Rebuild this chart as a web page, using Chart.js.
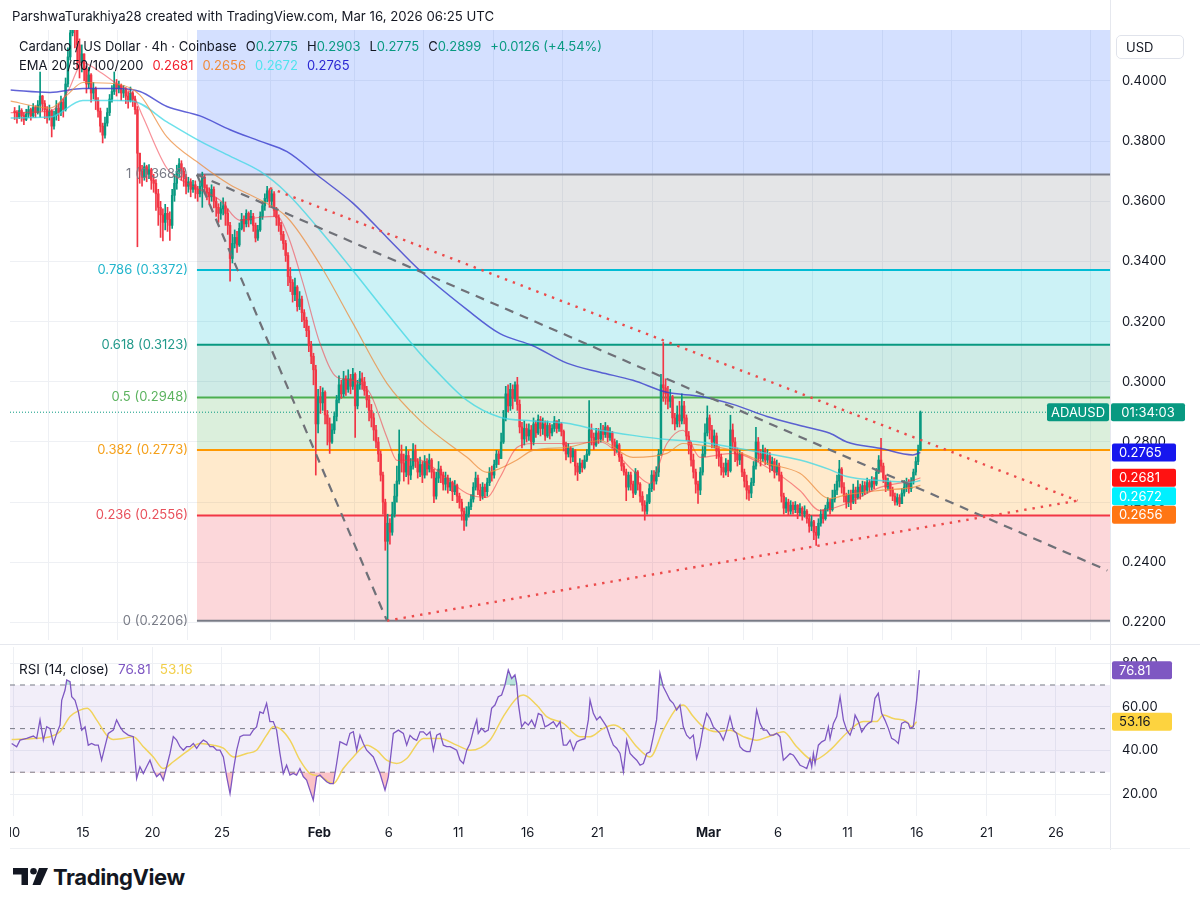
<!DOCTYPE html>
<html><head><meta charset="utf-8">
<script src="https://cdn.jsdelivr.net/npm/chart.js@4.4.1/dist/chart.umd.min.js"></script>
<style>
html,body{margin:0;padding:0;background:#fff;width:1200px;height:912px;overflow:hidden;font-family:Inter,Roboto,"Noto Sans",sans-serif;color:#131722;}
.abs{position:absolute;white-space:nowrap;}
#priceCanvas{position:absolute;left:10px;top:0;}
#rsiCanvas{position:absolute;left:10px;top:645px;}
.sp{margin-left:9px;}
</style></head><body>
<canvas id="priceCanvas" width="1190" height="645"></canvas>
<canvas id="rsiCanvas" width="1190" height="205"></canvas>
<div class="abs" style="left:1110px;top:0;width:1px;height:850px;background:#e6e8ee;"></div>
<div class="abs" style="left:0;top:644px;width:1200px;height:1px;background:#e6e8ee;"></div>
<div class="abs" style="left:10px;top:848px;width:1180px;height:1px;background:#eef0f3;"></div>
<div class="abs" style="left:12px;top:8px;font-size:13.2px;">ParshwaTurakhiya28 created with TradingView.com, Mar 16, 2026 06:25 UTC</div>
<div class="abs" id="legend1" style="left:19px;top:38px;font-size:13px;"></div>
<div class="abs" id="legend2" style="left:19px;top:57px;font-size:13px;"></div>
<div class="abs" id="legend3" style="left:19px;top:661px;font-size:13.5px;"></div>
<div class="abs" style="left:1116px;top:35px;width:68px;height:24px;border:1px solid #e0e3eb;border-radius:5px;box-sizing:border-box;font-size:13px;line-height:22px;padding-left:9px;">USD</div>
<div class="abs" style="left:13px;top:866px;">
<svg width="36" height="20" viewBox="0 0 36 20"><path d="M0 2 H15 V19 H8.5 V8.5 H0 Z" fill="#131722"/><circle cx="20.5" cy="5.2" r="3.3" fill="#131722"/><path d="M26 2 H35 L27.5 19 H19.5 Z" fill="#131722"/></svg>
</div>
<div class="abs" style="left:53px;top:864px;font-size:22px;font-weight:700;letter-spacing:-0.4px;">TradingView</div>
<script>
// ---------------- DATA ----------------
// x axis = day of year 2026 (Jan 1 00:00 UTC = 0)
const tickDays   = [9, 14, 19, 24, 31, 36, 41, 46, 51, 59, 64, 69, 74, 79, 84];
const tickLabels = ['10','15','20','25','Feb','6','11','16','21','Mar','6','11','16','21','26'];
const monthTicks = ['Feb','Mar'];
const priceTicks = [0.22,0.24,0.26,0.28,0.30,0.32,0.34,0.36,0.38,0.40];
const rsiTicks   = [20,40,60,80];
const rsiLevels  = [70,50,30];

// 4h candles ADA/USD, first bar Jan 10 00:00 UTC (6 per day)
const firstBarDay = 9;
const barsPerDay = 6;
const firstOpen = 0.3900;
const closes = [
.3895,.3880,.3902,.3885,.3872,.3890, .3905,.3884,.3912,.3895,.3920,.3950, .3925,.3905,.3880,.3900,.3850,.3885, .3910,.3895,.3930,.3905,.3990,.4080,
.4160,.4230,.4180,.4120,.4060,.4090, .4040,.3990,.4020,.3960,.3975,.3935, .3900,.3850,.3820,.3860,.3895,.3940, .3965,.3990,.3975,.3985,.3960,.3970,
.3950,.3935,.3960,.3940,.3905,.3760, .3700,.3680,.3715,.3690,.3705,.3670, .3660,.3625,.3580,.3555,.3530,.3560, .3540,.3520,.3620,.3660,.3700,.3725,
.3700,.3680,.3650,.3665,.3640,.3655, .3640,.3625,.3650,.3680,.3645,.3630, .3615,.3640,.3600,.3580,.3560,.3575, .3585,.3560,.3520,.3410,.3460,.3480,
.3455,.3510,.3540,.3525,.3560,.3538, .3550,.3520,.3478,.3505,.3550,.3585, .3610,.3635,.3600,.3625,.3570,.3545, .3520,.3490,.3460,.3420,.3350,.3330,
.3290,.3315,.3250,.3275,.3230,.3205, .3170,.3120,.3085,.3040,.2860,.2950,
.2930,.2965,.2890,.2860,.2800,.2840, .2885,.2940,.2990,.2960,.3010,.2975, .3010,.2985,.3025,.2920,.2990,.3010, .3000,.2970,.2940,.2905,.2880,.2840,
.2800,.2760,.2690,.2600,.2470,.2530, .2500,.2560,.2620,.2670,.2760,.2730, .2700,.2755,.2690,.2720,.2770,.2735, .2700,.2725,.2690,.2735,.2710,.2740,
.2700,.2620,.2680,.2710,.2690,.2660, .2680,.2650,.2665,.2635,.2655,.2620, .2600,.2570,.2540,.2560,.2585,.2610, .2650,.2680,.2640,.2620,.2650,.2635,
.2665,.2700,.2690,.2725,.2760,.2745, .2800,.2880,.2960,.2920,.2975,.2945, .2990,.2925,.2850,.2810,.2845,.2820, .2840,.2800,.2860,.2830,.2875,.2845,
.2860,.2820,.2855,.2830,.2845,.2870, .2845,.2860,.2835,.2790,.2760,.2780, .2750,.2770,.2720,.2700,.2730,.2715, .2740,.2760,.2840,.2815,.2790,.2830,
.2810,.2840,.2825,.2850,.2815,.2830, .2800,.2775,.2790,.2750,.2720,.2700, .2650,.2690,.2660,.2630,.2700,.2660, .2620,.2590,.2570,.2600,.2645,.2690,
.2670,.2700,.2760,.2990,.2980,.2960, .2935,.2950,.2880,.2860,.2890,.2870, .2920,.2880,.2820,.2790,.2740,.2700, .2660,.2640,.2700,.2760,.2830,.2880,
.2840,.2800,.2820,.2770,.2750,.2715, .2700,.2730,.2705,.2840,.2800,.2760, .2740,.2760,.2700,.2670,.2640,.2630, .2665,.2720,.2800,.2760,.2745,.2770,
.2740,.2755,.2720,.2735,.2700,.2720, .2690,.2620,.2580,.2600,.2570,.2590, .2575,.2590,.2565,.2580,.2560,.2570, .2545,.2520,.2535,.2500,.2490,.2530,
.2560,.2545,.2580,.2600,.2575,.2610, .2640,.2670,.2710,.2650,.2620,.2600, .2625,.2600,.2640,.2615,.2650,.2630, .2655,.2640,.2665,.2650,.2670,.2660,
.2700,.2740,.2720,.2680,.2650,.2665, .2640,.2620,.2600,.2615,.2595,.2630, .2650,.2665,.2645,.2670,.2700,.2735,
.2773,.2899];
const highs = [
.3912,.3902,.3918,.3908,.3895,.3906, .3918,.3910,.3925,.3918,.3935,.4030, .3952,.3935,.3915,.3920,.3905,.3900, .3935,.3925,.3950,.3940,.4010,.4110,
.4200,.4280,.4260,.4190,.4140,.4120, .4090,.4050,.4045,.4025,.3995,.3980, .3945,.3910,.3860,.3880,.3910,.3955, .3985,.4030,.4005,.4000,.3990,.3985,
.3978,.3965,.3980,.3965,.3950,.3915, .3740,.3720,.3728,.3720,.3722,.3710, .3690,.3672,.3640,.3600,.3575,.3590, .3580,.3565,.3640,.3690,.3720,.3742,
.3735,.3712,.3690,.3680,.3675,.3670, .3668,.3650,.3662,.3697,.3688,.3655, .3645,.3655,.3648,.3612,.3592,.3598, .3612,.3598,.3575,.3530,.3490,.3505,
.3500,.3528,.3560,.3552,.3572,.3565, .3570,.3560,.3528,.3520,.3565,.3600, .3625,.3650,.3642,.3640,.3632,.3580, .3555,.3530,.3500,.3470,.3430,.3380,
.3340,.3345,.3320,.3300,.3285,.3240, .3215,.3185,.3135,.3095,.3055,.2975,
.2985,.2980,.2970,.2905,.2880,.2860, .2900,.2955,.3020,.3005,.3035,.3020, .3040,.3025,.3045,.3030,.3005,.3035, .3030,.3015,.2985,.2955,.2925,.2895,
.2855,.2815,.2770,.2700,.2610,.2560, .2545,.2600,.2660,.2720,.2840,.2790, .2760,.2785,.2770,.2745,.2795,.2790, .2745,.2750,.2735,.2755,.2745,.2760,
.2745,.2710,.2700,.2735,.2720,.2700, .2700,.2690,.2680,.2670,.2672,.2660, .2630,.2610,.2580,.2585,.2600,.2625, .2665,.2700,.2690,.2660,.2665,.2660,
.2680,.2715,.2720,.2740,.2772,.2770, .2830,.2905,.2985,.2990,.2995,.2990, .3000,.3015,.2940,.2865,.2870,.2860, .2860,.2855,.2880,.2870,.2890,.2885,
.2880,.2870,.2870,.2862,.2858,.2885, .2870,.2875,.2865,.2840,.2800,.2795, .2785,.2780,.2775,.2730,.2745,.2740, .2755,.2775,.2938,.2860,.2830,.2845,
.2845,.2862,.2855,.2865,.2855,.2848, .2835,.2810,.2805,.2795,.2760,.2730, .2710,.2700,.2700,.2670,.2712,.2705, .2665,.2635,.2605,.2625,.2660,.2705,
.2705,.2718,.2775,.3025,.3131,.3010, .2985,.2975,.2955,.2895,.2920,.2935, .2960,.2935,.2890,.2835,.2800,.2760, .2710,.2670,.2715,.2785,.2860,.2920,
.2890,.2855,.2840,.2830,.2785,.2760, .2730,.2745,.2740,.2889,.2860,.2815, .2780,.2772,.2765,.2710,.2690,.2655, .2680,.2735,.2849,.2815,.2775,.2790,
.2780,.2775,.2765,.2750,.2745,.2740, .2730,.2700,.2630,.2615,.2610,.2605, .2600,.2602,.2592,.2595,.2585,.2588, .2575,.2560,.2555,.2540,.2520,.2545,
.2575,.2575,.2590,.2615,.2610,.2640, .2660,.2690,.2739,.2715,.2665,.2630, .2640,.2640,.2660,.2650,.2672,.2660, .2670,.2668,.2680,.2675,.2685,.2682,
.2712,.2755,.2812,.2730,.2690,.2680, .2670,.2650,.2630,.2628,.2625,.2645, .2672,.2680,.2675,.2682,.2710,.2750,
.2790,.2903];
const lows = [
.3872,.3860,.3875,.3866,.3855,.3868, .3878,.3870,.3880,.3878,.3890,.3880, .3900,.3875,.3860,.3870,.3814,.3840, .3870,.3868,.3885,.3880,.3900,.3980,
.4070,.4150,.4110,.4040,.4010,.4030, .4000,.3960,.3975,.3930,.3940,.3905, .3880,.3830,.3794,.3810,.3850,.3885, .3930,.3955,.3950,.3960,.3935,.3945,
.3925,.3910,.3930,.3915,.3890,.3449, .3660,.3650,.3670,.3665,.3675,.3640, .3630,.3570,.3520,.3480,.3468,.3505, .3500,.3470,.3510,.3600,.3640,.3680,
.3670,.3650,.3625,.3630,.3615,.3630, .3610,.3600,.3615,.3580,.3625,.3605, .3590,.3600,.3578,.3550,.3530,.3540, .3555,.3520,.3490,.3335,.3395,.3445,
.3430,.3450,.3505,.3500,.3515,.3515, .3525,.3500,.3465,.3470,.3500,.3540, .3570,.3598,.3580,.3585,.3550,.3520, .3500,.3470,.3440,.3400,.3320,.3300,
.3265,.3270,.3235,.3240,.3200,.3180, .3150,.3100,.3060,.2990,.2690,.2830,
.2895,.2905,.2860,.2790,.2762,.2795, .2828,.2870,.2930,.2945,.2950,.2955, .2965,.2960,.2975,.2815,.2910,.2975, .2975,.2955,.2915,.2870,.2850,.2805,
.2780,.2735,.2670,.2560,.2440,.2206, .2460,.2490,.2550,.2600,.2660,.2700, .2670,.2685,.2660,.2675,.2710,.2715, .2680,.2685,.2665,.2680,.2690,.2700,
.2680,.2598,.2610,.2665,.2665,.2640, .2640,.2630,.2638,.2605,.2625,.2598, .2580,.2540,.2506,.2520,.2550,.2575, .2600,.2640,.2625,.2605,.2610,.2615,
.2620,.2655,.2670,.2680,.2715,.2725, .2745,.2795,.2870,.2900,.2905,.2910, .2935,.2905,.2830,.2780,.2790,.2800, .2805,.2775,.2790,.2815,.2825,.2820,
.2825,.2805,.2815,.2810,.2820,.2835, .2830,.2835,.2820,.2770,.2740,.2750, .2730,.2735,.2690,.2672,.2695,.2700, .2710,.2735,.2755,.2790,.2775,.2785,
.2795,.2800,.2805,.2815,.2800,.2805, .2780,.2755,.2765,.2735,.2705,.2690, .2605,.2640,.2640,.2615,.2625,.2640, .2600,.2570,.2540,.2560,.2595,.2635,
.2640,.2660,.2685,.2755,.2935,.2925, .2910,.2915,.2860,.2840,.2850,.2850, .2860,.2860,.2805,.2760,.2720,.2680, .2630,.2596,.2625,.2690,.2750,.2820,
.2810,.2780,.2780,.2745,.2720,.2690, .2682,.2690,.2685,.2700,.2770,.2735, .2720,.2725,.2685,.2650,.2610,.2606, .2615,.2655,.2710,.2735,.2720,.2735,
.2725,.2725,.2700,.2705,.2680,.2690, .2670,.2600,.2560,.2565,.2555,.2560, .2560,.2565,.2545,.2555,.2540,.2550, .2530,.2500,.2505,.2475,.2456,.2480,
.2520,.2530,.2540,.2570,.2560,.2570, .2600,.2625,.2650,.2630,.2600,.2580, .2585,.2575,.2595,.2595,.2610,.2610, .2620,.2625,.2630,.2635,.2640,.2645,
.2655,.2695,.2700,.2665,.2635,.2640, .2620,.2605,.2590,.2590,.2585,.2595, .2620,.2635,.2630,.2635,.2660,.2690,
.2725,.2773];

// EMA lines: [day, price]
const ema20Pts = [[8.8,.3895],[11.63,.3900],[12.85,.3960],[14.00,.4060],[15.22,.4030],[16.45,.3990],[17.60,.3953],[18.32,.3880],[20.04,.3710],[21.48,.3660],[23.86,.3604],[25.30,.3537],[26.73,.3547],[27.96,.3550],[28.68,.3494],[29.83,.3328],[31.05,.3128],[32.27,.3015],[33.42,.3005],[34.65,.2962],[35.87,.2815],[36.59,.2739],[38.24,.2740],[39.18,.2716],[41.63,.2629],[43.07,.2616],[44.00,.2682],[45.22,.2782],[46.37,.2795],[48.82,.2795],[51.19,.2800],[53.57,.2705],[54.79,.2662],[56.01,.2795],[57.16,.2839],[58.39,.2749],[60.76,.2762],[63.21,.2716],[65.58,.2639],[67.02,.2572],[68.96,.2596],[71.34,.2649],[73.71,.2672],[74.25,.2681]];
const ema50Pts = [[8.8,.3933],[11.63,.3910],[12.85,.3953],[14.00,.3995],[16.45,.3990],[18.10,.3953],[20.04,.3814],[22.42,.3724],[24.58,.3655],[26.73,.3605],[28.68,.3547],[31.05,.3390],[33.42,.3195],[35.87,.2995],[38.24,.2872],[41.63,.2749],[43.07,.2699],[44.00,.2712],[45.22,.2740],[46.37,.2772],[48.82,.2782],[51.19,.2805],[53.57,.2749],[56.01,.2762],[57.16,.2795],[58.39,.2790],[60.76,.2772],[63.21,.2729],[65.58,.2696],[67.74,.2612],[68.96,.2625],[71.34,.2639],[73.71,.2649],[74.25,.2656]];
const ema100Pts = [[8.8,.3877],[11.63,.3880],[14.00,.3935],[16.45,.3935],[17.60,.3933],[20.04,.3864],[22.42,.3800],[24.58,.3750],[26.73,.3700],[28.68,.3627],[31.05,.3504],[33.42,.3370],[35.87,.3228],[38.24,.3095],[39.18,.3048],[41.63,.2938],[44.00,.2882],[46.37,.2870],[48.82,.2862],[51.19,.2839],[53.57,.2822],[56.01,.2808],[58.39,.2800],[60.76,.2782],[63.21,.2762],[65.58,.2740],[67.74,.2708],[68.96,.2685],[71.34,.2672],[73.71,.2667],[74.25,.2672]];
const ema200Pts = [[8.8,.3970],[11.63,.3962],[14.00,.3975],[16.45,.3975],[18.10,.3965],[20.04,.3915],[22.42,.3884],[24.58,.3838],[26.73,.3800],[28.68,.3765],[31.05,.3680],[33.42,.3594],[35.87,.3480],[38.24,.3370],[41.63,.3240],[44.00,.3160],[46.37,.3120],[48.82,.3062],[51.19,.3032],[53.57,.3005],[56.01,.2965],[58.39,.2952],[60.76,.2925],[63.21,.2885],[65.58,.2855],[67.74,.2829],[68.96,.2800],[71.34,.2779],[73.71,.2757],[74.25,.2765]];

// Fibonacci retracement
const fibRatios = ['1','0.786','0.618','0.5','0.382','0.236','0'];
const fibPrices = [0.3689,0.3372,0.3123,0.2948,0.2773,0.2556,0.2206];
const fibStartDay = 22.2;

// trend lines [day, price]
const trendGreyShallow = [[22.2,.3689],[87.7,.2373]];
const trendGreySteep   = [[22.2,.3689],[35.87,.2206]];
const trendRedUpper    = [[27.45,.3644],[85.55,.2605]];
const trendRedLower    = [[35.87,.2206],[85.55,.2605]];
const lastPrice = 0.2899;
const countdown = '01:34:03';

// RSI(14) and its MA: [day, value]
const rsiPts = [[8.87,43.2],[9.23,41.7],[9.47,44.7],[9.95,45.5],[10.43,46.6],[10.67,45.5],[10.91,54],[11.15,44.7],[11.39,50.9],[11.63,50],[11.87,43],[12.11,47.8],[12.35,51.6],[12.47,63],[12.71,67.7],[12.83,72.3],[13.07,71.5],[13.19,64.6],[13.43,63],[13.67,57.7],[13.91,49.3],[14.15,50.8],[14.38,42.4],[14.62,43.2],[14.86,42.4],[15.10,42.4],[15.34,35.5],[15.58,41.7],[15.82,47.8],[16.18,49.3],[16.42,54],[16.66,50.9],[16.90,48.6],[17.26,47],[17.62,46.3],[17.86,27.1],[18.10,32.5],[18.34,29.4],[18.58,32.5],[18.82,35.5],[19.06,31],[19.30,28],[19.54,29.4],[19.78,26.4],[20.02,32.5],[20.26,38.6],[20.50,46.3],[20.74,44.7],[20.98,41.7],[21.22,40.1],[21.46,41.7],[21.70,41.7],[21.94,43.2],[22.18,40.9],[22.42,43.2],[22.66,44.7],[22.90,43.9],[23.14,41.7],[23.38,41.7],[23.62,40.1],[23.86,40.1],[24.10,37],[24.34,28],[24.58,20.2],[24.82,31],[25.06,40.1],[25.30,46.3],[25.54,47],[26.02,47],[26.25,49.3],[26.49,50.8],[26.73,57.7],[26.97,57],[27.21,61.6],[27.45,53.2],[27.69,53.2],[27.93,49.3],[28.17,38.6],[28.41,29.4],[28.65,33.2],[28.89,28.7],[29.13,29.4],[29.37,28.7],[29.61,31.7],[29.85,28],[30.09,26.4],[30.33,21.8],[30.57,17.2],[30.81,28],[31.05,28.7],[31.29,27.1],[31.53,25.6],[31.77,24.8],[32.01,24.8],[32.25,34],[32.49,44],[32.73,43.2],[32.97,42.4],[33.21,47.8],[33.45,48.6],[33.69,40.1],[33.93,47],[34.17,43.2],[34.41,40.1],[34.89,37],[35.37,29.4],[35.73,21.8],[35.97,27.9],[36.33,47.8],[36.69,49.3],
[37.05,47.8],[37.29,42.4],[37.53,46.9],[37.77,45.4],[38.01,44.6],[38.25,48.5],[38.49,48.5],[38.73,47],[38.97,48.5],[39.21,40.1],[39.45,47],[39.69,47.8],[39.93,42.4],[40.17,41.7],[40.41,41.7],[40.65,40.9],[40.89,40.1],[41.13,35.5],[41.37,34],[41.61,40.1],[41.85,43.2],[42.09,49.3],[42.33,54],[42.44,47.8],[42.68,50.1],[42.92,48.5],[43.16,49.3],[43.40,59.3],[43.64,60.8],[43.88,64.6],[44.12,65.4],[44.36,70],[44.60,76.9],[44.84,73],[45.08,74.6],[45.20,70.8],[45.32,61.6],[45.56,50.8],[45.80,53],[46.04,51.6],[46.28,53.9],[46.52,50.8],[46.76,57],[47.00,56.2],[47.24,50.8],[47.48,51.6],[47.84,53.2],[48.08,50.8],[48.32,53.2],[48.56,42.4],[48.80,42.4],[49.04,44.7],[49.28,40.1],[49.52,43.9],[49.76,44.7],[50.12,45.4],[50.36,54],[50.48,63.1],[50.72,57],[50.96,54],[51.20,55.5],[51.44,53.2],[51.68,50.8],[51.92,46.3],[52.16,42.4],[52.40,41],[52.64,38.6],[52.88,30.2],[53.12,44.7],[53.36,38.6],[53.60,37],[53.84,35.5],[54.08,33.2],[54.32,34],[54.56,38.6],[54.80,39.4],[55.03,46.3],[55.27,54],[55.51,75.4],[55.75,69.2],[55.99,66.2],[56.23,63.1],[56.47,61.6],[56.71,58.5],[56.95,60.8],[57.19,50.8],[57.43,47],[57.67,45.4],[57.91,47],[58.15,36.3],[58.39,41.7],[58.63,50.8],[58.87,57],[59.11,54.6],[59.35,50.8],[59.59,49.3],[59.83,47.8],[60.07,44.7],[60.31,49.3],[60.55,55.5],[60.79,49.3],[61.03,47.8],[61.27,41.7],[61.51,40.1],[61.75,39.4],[61.99,39.4],[62.23,46.3],[62.47,58.5],[62.71,52.4],[62.95,49.3],[63.19,49.3],[63.43,47],[63.67,47],[63.91,47.8],[64.15,46.3],[64.39,35.5],[64.63,37],[64.87,38.6],
[65.11,37.8],[65.35,35.5],[65.59,33.2],[65.83,32.5],[66.07,31.7],[66.31,36.3],[66.43,32.5],[66.55,38.6],[66.67,34],[66.91,42.4],[67.15,43.9],[67.39,44.7],[67.63,50.8],[67.75,45.4],[67.99,52.4],[68.23,55.5],[68.47,64.6],[68.71,53.9],[68.95,49.3],[69.19,47],[69.43,51.6],[69.55,56.2],[69.79,53.2],[70.03,48.5],[70.26,50.8],[70.50,52.4],[70.74,53.2],[70.98,63.9],[71.22,66.2],[71.46,57],[71.70,53.9],[71.94,50.1],[72.18,45.5],[72.42,44.7],[72.66,43.2],[72.90,52.4],[73.14,53.2],[73.38,52.4],[73.50,50.1],[73.74,50.8],[73.98,63.1],[74.17,76.81]];
const rsiMaPts = [[8.87,45],[10.43,45.5],[11.63,46.3],[12.35,48.6],[13.07,55.5],[13.79,58.5],[14.31,59.3],[14.98,54],[15.70,47],[16.18,45],[16.90,45.5],[17.62,46.3],[18.34,41.7],[19.06,37],[19.78,31.7],[20.50,34.8],[21.46,39.4],[22.42,43.2],[23.38,42.4],[24.10,41],[24.82,37],[25.78,38.6],[26.49,40.1],[27.21,47],[27.69,50.8],[28.17,50],[28.89,44.7],[29.61,35.5],[30.33,29.4],[31.05,28.2],[32.01,24.8],[32.73,31.7],[33.45,37],[34.41,42.4],[35.13,40.1],[35.85,35.5],[36.57,34],[37.29,36.3],[38.49,45.5],[39.69,45.5],[40.89,42.4],[41.85,40.1],[43.28,44.7],[44.24,55.5],[45.20,63.9],[45.68,65.4],[46.64,60.8],[47.36,55.5],[48.56,52.4],[49.76,46.3],[50.48,46.3],[51.44,50.1],[52.16,51.6],[52.88,49.3],[53.84,41.7],[54.80,37],[55.75,49.3],[56.71,59.3],[57.19,60.8],[57.91,55.5],[58.63,50.8],[59.59,48.6],[60.55,49.3],[61.51,46.3],[62.47,44.7],[63.43,46.6],[64.39,48.6],[65.35,41.7],[66.55,35.5],[67.75,40.1],[68.95,48],[70.15,53.2],[71.10,53.2],[71.58,56.2],[72.30,54.6],[73.26,53.2],[73.62,50.8],[73.98,53.16]];

// ---------------- STYLE ----------------
const FONT = 'Inter, Roboto, "Noto Sans", sans-serif';
const GREEN = '#089981', RED = '#f23645';
const fibLineColors  = ['#787b86','#00bcd4','#089981','#4caf50','#ff9800','#f23645','#787b86'];
const fibLabelColors = ['#787b86','#22b5cc','#22998a','#5cb35f','#f5a01a','#e8505b','#787b86'];
const fibFillColors  = ['rgba(41,98,255,0.2)','rgba(120,123,134,0.2)','rgba(0,188,212,0.2)','rgba(8,153,129,0.2)','rgba(76,175,80,0.2)','rgba(255,152,0,0.2)','rgba(242,54,69,0.2)'];
const GRID = '#eef0f4';
const xMin = 8.75, xMax = 87.89;
const yMin = 0.21418, yMax = 0.41695;
const rMin = 9.92, rMax = 87.42;

Chart.defaults.font.family = FONT;
Chart.defaults.font.size = 13;
Chart.defaults.color = '#131722';

// ---------------- BUILD ----------------
const pts = a => a.map(p => ({x: p[0], y: p[1]}));
const last = a => a[a.length - 1][1];
const barDay = i => firstBarDay + (i + 0.5) / barsPerDay;
const opens = closes.map((c, i) => i ? closes[i - 1] : firstOpen);
const candleColors = closes.map((c, i) => c >= opens[i] ? GREEN : RED);
const wickData = closes.map((c, i) => ({x: barDay(i), y: [Math.min(lows[i], opens[i], c), Math.max(highs[i], opens[i], c)]}));
const bodyData = closes.map((c, i) => ({x: barDay(i), y: [opens[i], c]}));

document.getElementById('legend1').innerHTML =
 'Cardano / US Dollar · 4h · Coinbase<span class="sp">O</span><span style="color:'+GREEN+'">0.2775</span><span class="sp">H</span><span style="color:'+GREEN+'">0.2903</span><span class="sp">L</span><span style="color:'+GREEN+'">0.2775</span><span class="sp">C</span><span style="color:'+GREEN+'">0.2899</span><span class="sp" style="color:'+GREEN+'">+0.0126 (+4.54%)</span>';
document.getElementById('legend2').innerHTML =
 'EMA 20/50/100/200<span class="sp" style="color:#f2212c">'+last(ema20Pts).toFixed(4)+'</span><span class="sp" style="color:#f08a3c">'+last(ema50Pts).toFixed(4)+'</span><span class="sp" style="color:#4fe3ee">'+last(ema100Pts).toFixed(4)+'</span><span class="sp" style="color:#2a26d2">'+last(ema200Pts).toFixed(4)+'</span>';
document.getElementById('legend3').innerHTML =
 'RSI (14, close)<span class="sp" style="color:#7e57c2">'+last(rsiPts).toFixed(2)+'</span><span class="sp" style="color:#f2cf4a">'+last(rsiMaPts).toFixed(2)+'</span>';

function tag(ctx, x0, x1, yc, bg, fg, text, center) {
  const h = 18;
  ctx.fillStyle = bg;
  ctx.beginPath();
  if (ctx.roundRect) ctx.roundRect(x0, yc - h / 2, x1 - x0, h, 2); else ctx.rect(x0, yc - h / 2, x1 - x0, h);
  ctx.fill();
  ctx.fillStyle = fg;
  ctx.font = '13px ' + FONT;
  ctx.textBaseline = 'middle';
  ctx.textAlign = center ? 'center' : 'left';
  ctx.fillText(text, center ? (x0 + x1) / 2 : x0 + 7, yc + 0.5);
}

const priceOverlay = {
  id: 'priceOverlay',
  afterDatasetsDraw(chart) {
    const {ctx, scales: {x, y}} = chart;
    ctx.save();
    ctx.font = '13px ' + FONT;
    ctx.textAlign = 'right';
    ctx.textBaseline = 'middle';
    fibPrices.forEach((p, k) => {
      ctx.fillStyle = fibLabelColors[k];
      ctx.fillText(fibRatios[k] + ' (' + p.toFixed(4) + ')', x.getPixelForValue(fibStartDay) - 9, y.getPixelForValue(p));
    });
    ctx.restore();
  },
  afterDraw(chart) {
    const {ctx, scales: {y}, chartArea} = chart;
    ctx.save();
    const yc = y.getPixelForValue(lastPrice);
    tag(ctx, chartArea.right - 63, chartArea.right - 1, yc, GREEN, '#fff', 'ADAUSD', true);
    tag(ctx, chartArea.right + 1, chartArea.right + 75, yc, GREEN, '#fff', countdown, true);
    const labels = [
      {v: last(ema200Pts), bg: '#1616ee'},
      {v: last(ema20Pts), bg: '#ff1212'},
      {v: last(ema100Pts), bg: '#00f0ff'},
      {v: last(ema50Pts), bg: '#ff7614'}
    ].map(o => Object.assign(o, {p: y.getPixelForValue(o.v)})).sort((a, b) => a.p - b.p);
    for (let i = 1; i < labels.length; i++) if (labels[i].p < labels[i - 1].p + 18.5) labels[i].p = labels[i - 1].p + 18.5;
    labels.forEach(o => tag(ctx, chartArea.right + 2, chartArea.right + 66, o.p, o.bg, '#fff', o.v.toFixed(4), false));
    ctx.restore();
  }
};

const rsiOverlay = {
  id: 'rsiOverlay',
  afterDraw(chart) {
    const {ctx, scales: {y}, chartArea} = chart;
    ctx.save();
    tag(ctx, chartArea.right + 2, chartArea.right + 62, y.getPixelForValue(last(rsiPts)), '#7e57c2', '#fff', last(rsiPts).toFixed(2), false);
    tag(ctx, chartArea.right + 2, chartArea.right + 62, y.getPixelForValue(last(rsiMaPts)), '#fdd33f', '#131722', last(rsiMaPts).toFixed(2), false);
    ctx.restore();
  }
};

const lineBase = {type: 'line', pointRadius: 0, borderWidth: 1, fill: false, clip: 0, tension: 0};
const priceDatasets = [];
// fib bands
fibPrices.forEach((p, k) => {
  priceDatasets.push(Object.assign({}, lineBase, {
    data: [{x: fibStartDay, y: p}, {x: xMax, y: p}], borderWidth: 0,
    backgroundColor: fibFillColors[k],
    fill: k === 0 ? 'end' : {target: {value: fibPrices[k - 1]}, above: fibFillColors[k], below: fibFillColors[k]},
    order: 100
  }));
});
// fib level lines
fibPrices.forEach((p, k) => {
  priceDatasets.push(Object.assign({}, lineBase, {
    data: [{x: fibStartDay, y: p}, {x: xMax, y: p}], borderColor: fibLineColors[k], borderWidth: 2, order: 90
  }));
});
// current price line
priceDatasets.push(Object.assign({}, lineBase, {
  data: [{x: xMin, y: lastPrice}, {x: xMax, y: lastPrice}], borderColor: GREEN, borderWidth: 1, borderDash: [1, 2], order: 80
}));
// candles
priceDatasets.push({type: 'bar', data: wickData, backgroundColor: candleColors, barThickness: 1, grouped: false, clip: 0, order: 41});
priceDatasets.push({type: 'bar', data: bodyData, backgroundColor: candleColors, barThickness: 1.8, minBarLength: 1, grouped: false, clip: 0, order: 40});
// EMAs
[[ema20Pts, 'rgba(242,54,69,0.55)', 1.2], [ema50Pts, 'rgba(236,140,62,0.75)', 1.2], [ema100Pts, 'rgba(60,215,228,0.75)', 1.5], [ema200Pts, 'rgba(58,60,205,0.8)', 1.5]].forEach(e => {
  priceDatasets.push(Object.assign({}, lineBase, {data: pts(e[0]), borderColor: e[1], borderWidth: e[2], cubicInterpolationMode: 'monotone', order: 30}));
});
// trend lines
[trendGreyShallow, trendGreySteep].forEach(t => priceDatasets.push(Object.assign({}, lineBase, {data: pts(t), borderColor: '#6f7178', borderWidth: 2.2, borderDash: [9, 7], order: 20})));
[trendRedUpper, trendRedLower].forEach(t => priceDatasets.push(Object.assign({}, lineBase, {data: pts(t), borderColor: '#ec4b4b', borderWidth: 2.4, borderDash: [2.4, 6], order: 20})));

const xTicksBuild = s => { s.ticks = tickDays.map(v => ({value: v})); };

new Chart(document.getElementById('priceCanvas'), {
  type: 'bar',
  data: {datasets: priceDatasets},
  plugins: [priceOverlay],
  options: {
    responsive: false, animation: false, events: [],
    layout: {padding: {top: 30, bottom: 5, left: 0, right: 0}},
    plugins: {legend: {display: false}, tooltip: {enabled: false}},
    scales: {
      x: {type: 'linear', min: xMin, max: xMax, offset: false,
          grid: {color: GRID, drawTicks: false}, border: {display: false},
          ticks: {display: false}, afterBuildTicks: xTicksBuild,
          afterFit: s => { s.height = 0; s.paddingLeft = 0; s.paddingRight = 0; }},
      y: {type: 'linear', position: 'right', min: yMin, max: yMax,
          grid: {color: GRID, drawTicks: false}, border: {display: false},
          ticks: {padding: 12, color: '#131722', font: {size: 13}, callback: v => Number(v).toFixed(4)},
          afterBuildTicks: s => { s.ticks = priceTicks.map(v => ({value: v})); },
          afterFit: s => { s.width = 90; s.paddingTop = 0; s.paddingBottom = 0; }}
    }
  }
});

const rsiDatasets = [];
rsiDatasets.push(Object.assign({}, lineBase, {
  data: [{x: xMin, y: rsiLevels[0]}, {x: xMax, y: rsiLevels[0]}], borderWidth: 0,
  fill: {target: {value: rsiLevels[2]}, above: 'rgba(126,87,194,0.1)', below: 'rgba(126,87,194,0.1)'}, order: 100
}));
rsiLevels.forEach(v => rsiDatasets.push(Object.assign({}, lineBase, {
  data: [{x: xMin, y: v}, {x: xMax, y: v}], borderColor: '#787b86', borderWidth: 1, borderDash: [5, 5], order: 90
})));
rsiDatasets.push(Object.assign({}, lineBase, {data: pts(rsiPts), borderWidth: 0,
  fill: {target: {value: rsiLevels[0]}, above: 'rgba(8,153,129,0.28)', below: 'rgba(0,0,0,0)'}, order: 60}));
rsiDatasets.push(Object.assign({}, lineBase, {data: pts(rsiPts), borderWidth: 0,
  fill: {target: {value: rsiLevels[2]}, above: 'rgba(0,0,0,0)', below: 'rgba(242,54,69,0.3)'}, order: 60}));
rsiDatasets.push(Object.assign({}, lineBase, {data: pts(rsiMaPts), borderColor: '#f1d35c', borderWidth: 1.5, cubicInterpolationMode: 'monotone', order: 40}));
rsiDatasets.push(Object.assign({}, lineBase, {data: pts(rsiPts), borderColor: '#7e57c2', borderWidth: 1.3, order: 30}));

new Chart(document.getElementById('rsiCanvas'), {
  type: 'line',
  data: {datasets: rsiDatasets},
  plugins: [rsiOverlay],
  options: {
    responsive: false, animation: false, events: [],
    layout: {padding: {top: 2, bottom: 4, left: 0, right: 0}},
    plugins: {legend: {display: false}, tooltip: {enabled: false}},
    scales: {
      x: {type: 'linear', min: xMin, max: xMax, offset: false,
          grid: {color: GRID, drawTicks: false}, border: {display: false},
          ticks: {autoSkip: false, maxRotation: 0, padding: 9, color: '#131722',
                  font: c => ({family: FONT, size: 13, weight: (c.tick && monthTicks.includes(c.tick.label)) ? 'bold' : 'normal'}),
                  callback: (v, i) => tickLabels[i]},
          afterBuildTicks: xTicksBuild,
          afterFit: s => { s.height = 30; s.paddingLeft = 0; s.paddingRight = 0; }},
      y: {type: 'linear', position: 'right', min: rMin, max: rMax,
          grid: {color: GRID, drawTicks: false}, border: {display: false},
          ticks: {padding: 12, color: '#131722', font: {size: 13}, callback: v => Number(v).toFixed(2)},
          afterBuildTicks: s => { s.ticks = rsiTicks.map(v => ({value: v})); },
          afterFit: s => { s.width = 90; s.paddingTop = 0; s.paddingBottom = 0; }}
    }
  }
});
</script>
</body></html>
